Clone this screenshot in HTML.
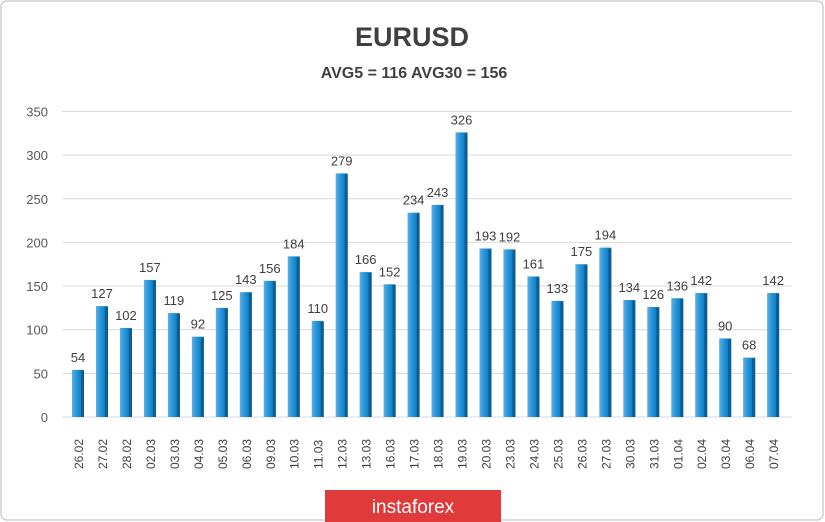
<!DOCTYPE html>
<html><head><meta charset="utf-8"><style>
body{margin:0;background:#fff;}
svg{display:block;font-family:"Liberation Sans",sans-serif;}
</style></head><body>
<svg width="825" height="522" viewBox="0 0 825 522">
<defs>
<linearGradient id="g" x1="0" x2="1">
<stop offset="0" stop-color="#5aaee6"/><stop offset="0.5" stop-color="#1b8fd6"/><stop offset="1" stop-color="#0d6fb0"/>
</linearGradient>
</defs>
<rect x="1" y="1" width="822" height="519" rx="6" fill="#fff" stroke="#d0d0d0" stroke-width="1.5"/>
<text x="412" y="46" text-anchor="middle" font-size="27" font-weight="bold" fill="#404040">EURUSD</text>
<text x="414" y="78" text-anchor="middle" font-size="16" font-weight="bold" fill="#404040">AVG5 = 116 AVG30 = 156</text>
<g id="grid" stroke="#d9d9d9" stroke-width="1"></g>
<g id="ylab" font-size="13" fill="#595959" text-anchor="end"></g>
<g id="bars"></g>
<rect x="325" y="490" width="176" height="32" fill="#e03a3a"/>
<text x="413" y="513" text-anchor="middle" font-size="19" fill="#fff">instaforex</text>
<script>
const vals=[54,127,102,157,119,92,125,143,156,184,110,279,166,152,234,243,326,193,192,161,133,175,194,134,126,136,142,90,68,142];
const labs=["26.02","27.02","28.02","02.03","03.03","04.03","05.03","06.03","09.03","10.03","11.03","12.03","13.03","16.03","17.03","18.03","19.03","20.03","23.03","24.03","25.03","26.03","27.03","30.03","31.03","01.04","02.04","03.04","06.04","07.04"];
const ns="http://www.w3.org/2000/svg";
const z=417,k=0.873;
function el(t,a,p,txt){const e=document.createElementNS(ns,t);for(const i in a)e.setAttribute(i,a[i]);if(txt!=null)e.textContent=txt;document.getElementById(p).appendChild(e);}
for(let v=0;v<=350;v+=50){const y=z-v*k;el('line',{x1:62,x2:792,y1:y,y2:y},'grid');el('text',{x:48,y:y+5},'ylab',v);}
vals.forEach((v,i)=>{const cx=78+i*23.97,y=z-v*k;
el('rect',{x:cx-6,y:y,width:12,height:z-y,fill:'url(#g)'},'bars');
el('rect',{x:cx+3,y:y+1,width:3,height:z-y-1,fill:'#0b5d94'},'bars');
el('text',{x:cx,y:y-8,'text-anchor':'middle','font-size':13,fill:'#404040'},'bars',v);
el('text',{x:0,y:0,transform:`translate(${cx+5},${z+52}) rotate(-90)`,'font-size':12,fill:'#404040'},'bars',labs[i]);});
</script>
</svg>
</body></html>
